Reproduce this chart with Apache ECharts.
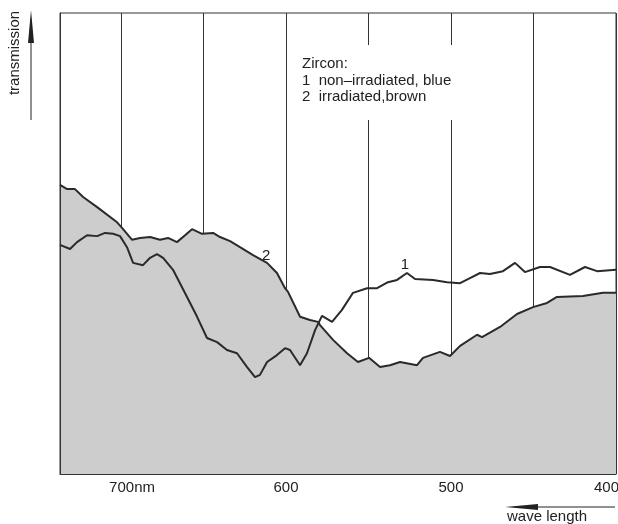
<!DOCTYPE html>
<html>
<head>
<meta charset="utf-8">
<script src="https://cdn.jsdelivr.net/npm/echarts@6/dist/echarts.min.js"></script>
<style>
html,body{margin:0;padding:0;background:#fff;}
#chart{width:618px;height:524px;}
</style>
</head>
<body>
<div id="chart"></div>
<script>
// wavelength (nm) and relative transmission (%)
var irradiatedNm = [737,732.7,727.9,723,714.5,702.4,699.4,693.3,688.5,682.4,676.4,671.5,666.1,661.2,657,650.9,644.2,640,633.9,627.9,620,611.5,605.5,600.6,598.8,591.5,585.5,580.6,579.4,571.5,563,556.4,549.7,543,537,530.9,520.6,517,506.7,500.6,494.5,484.2,481.2,470.3,460,450.3,441.8,435.8,420,407.9,400];
var irradiatedT  = [62.7,61.8,61.8,60.1,57.9,54.6,53.4,50.8,51.2,51.4,50.8,51.2,50.3,51.8,53.1,52.1,52.3,51.4,50.5,49.2,47.5,45.8,43.6,40.3,39.5,34.1,33.4,33.0,32.3,29.1,26.2,24.3,25.2,23.2,23.6,24.3,23.6,25.2,26.5,25.6,27.8,30.2,29.7,31.9,34.7,36.2,37.1,38.4,38.6,39.3,39.3];
var blueNm = [737,730.9,726.7,720.6,714.5,709.7,704.8,700.6,696.4,692.7,686.7,682.4,678.2,674.5,668.5,660,653.9,647.9,641.8,635.8,629.7,623.6,618.8,615.8,611.5,605.5,600.6,597.6,591.5,587.3,582.4,578.2,572.1,566.1,559.4,550.9,544.8,538.2,532.7,526.7,521.8,510.9,502.4,494.5,488.5,482.4,476.4,468.5,461.2,455.2,446.1,440,427.9,418.8,411.5,400];
var blueT  = [49.7,48.8,50.3,51.8,51.6,52.3,52.1,51.6,49.2,45.8,45.3,46.9,47.7,46.9,44.3,38.4,34.1,29.5,28.6,26.9,26.2,23.2,21.0,21.5,24.3,25.8,27.3,26.9,23.6,26.2,31.2,34.3,33.0,35.6,39.3,40.3,40.3,41.6,42.1,43.6,42.3,42.1,41.6,41.4,42.5,43.6,43.4,44.0,45.8,43.8,44.9,44.9,43.2,44.9,44.0,44.3];
var tickLabels = {700:'{a|700}nm', 600:'600', 500:'500', 400:'{b|400}'};
var legendTitle = 'Zircon:';
var legendLines = ['1  non\u2013irradiated, blue', '2  irradiated,brown'];

function pairs(xs, ys){ return xs.map(function(x,i){ return [x, ys[i]]; }); }

var FONT = '"Liberation Sans", Arial, sans-serif';
var INK = '#2a2a2a';
var chart = echarts.init(document.getElementById('chart'));
chart.setOption({
  animation: false,
  backgroundColor: '#ffffff',
  grid: {left: 60, right: 2, top: 13, bottom: 50, containLabel: false, outerBoundsMode: 'none',
    show: true, borderColor: '#333', borderWidth: 1, backgroundColor: 'transparent'},
  xAxis: {
    type: 'value', inverse: true, min: 400, max: 737, interval: 50, z: 3,
    axisLine: {show: true, lineStyle: {color: '#333', width: 1}},
    axisTick: {show: false},
    splitLine: {show: true, lineStyle: {color: '#333', width: 1}},
    axisLabel: {
      margin: 6, fontSize: 15, color: '#222', fontFamily: FONT,
      showMaxLabel: false, hideOverlap: false,
      formatter: function(v){ return tickLabels[v] || ''; },
      rich: {
        a: {fontSize: 15, color: '#222', fontFamily: FONT, padding: [0,0,0,22]},
        b: {fontSize: 15, color: '#222', fontFamily: FONT, padding: [0,19,0,0]}
      }
    }
  },
  yAxis: {
    type: 'value', min: 0, max: 100, z: 3,
    axisLine: {show: true, lineStyle: {color: '#333', width: 1}},
    axisTick: {show: false}, axisLabel: {show: false}, splitLine: {show: false}
  },
  series: [
    {
      name: 'irradiated, brown', type: 'line', data: pairs(irradiatedNm, irradiatedT),
      showSymbol: false, smooth: false,
      lineStyle: {color: INK, width: 2},
      areaStyle: {color: '#cdcdcd', opacity: 1},
      markPoint: {symbol: 'circle', symbolSize: 0, data: [{coord: [612.1, 47.3], value: '2'}],
        label: {show: true, formatter: '2', fontSize: 15, color: '#222', fontFamily: FONT}}
    },
    {
      name: 'non-irradiated, blue', type: 'line', data: pairs(blueNm, blueT),
      showSymbol: false, smooth: false,
      lineStyle: {color: INK, width: 2},
      markPoint: {symbol: 'circle', symbolSize: 0, data: [{coord: [527.9, 45.3], value: '1'}],
        label: {show: true, formatter: '1', fontSize: 15, color: '#222', fontFamily: FONT}}
    }
  ],
  graphic: [
    {type: 'rect', z: 10, shape: {x: 298, y: 45, width: 164, height: 75}, style: {fill: '#ffffff'}},
    {type: 'text', z: 11, left: 302, top: 56, style: {text: legendTitle, fontSize: 15, fill: '#222', fontFamily: FONT}},
    {type: 'text', z: 11, left: 302, top: 73, style: {text: legendLines[0], fontSize: 15, fill: '#222', fontFamily: FONT}},
    {type: 'text', z: 11, left: 302, top: 89, style: {text: legendLines[1], fontSize: 15, fill: '#222', fontFamily: FONT}},
    {type: 'text', z: 11, x: 15, y: 53, rotation: Math.PI/2,
      style: {text: 'transmission', fontSize: 15, fill: '#222', fontFamily: FONT, align: 'center', verticalAlign: 'middle'}},
    {type: 'line', z: 11, shape: {x1: 31, y1: 40, x2: 31, y2: 120}, style: {stroke: '#222', lineWidth: 1}},
    {type: 'polygon', z: 11, shape: {points: [[31,10],[28,43],[34,43]]}, style: {fill: '#222'}},
    {type: 'line', z: 11, shape: {x1: 535, y1: 507, x2: 615, y2: 507}, style: {stroke: '#222', lineWidth: 1}},
    {type: 'polygon', z: 11, shape: {points: [[505,507],[538,504],[538,510]]}, style: {fill: '#222'}},
    {type: 'text', z: 11, left: 507, top: 509, style: {text: 'wave length', fontSize: 15, fill: '#222', fontFamily: FONT}}
  ]
});
</script>
</body>
</html>
